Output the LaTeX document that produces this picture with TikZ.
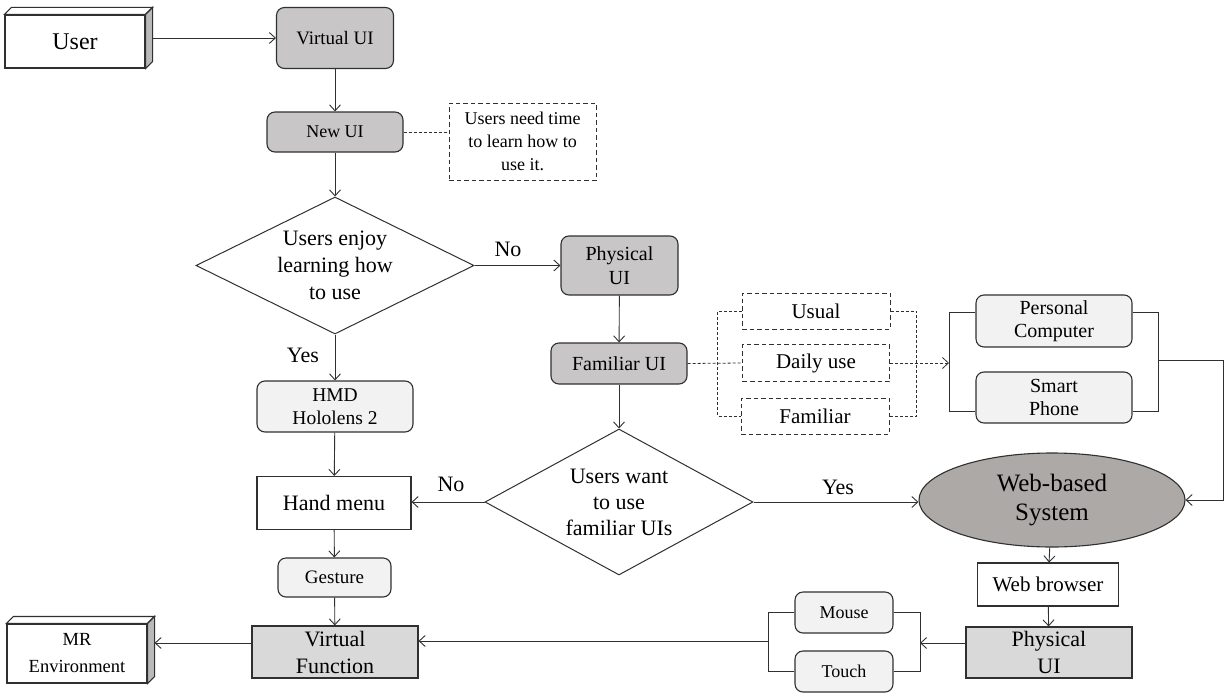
\documentclass[tikz,border=0pt]{standalone}
\usepackage{fontspec}
\setmainfont{Liberation Serif}
\usetikzlibrary{shapes,arrows.meta}
\definecolor{uigray}{HTML}{C8C6C6}
\definecolor{softgray}{HTML}{F2F2F2}
\definecolor{fngray}{HTML}{D9D9D9}
\definecolor{webgray}{HTML}{ADA9A7}
\definecolor{edge}{HTML}{303030}
\tikzset{
  box/.style={draw=edge,line width=1.1pt,align=center,inner sep=0pt},
  rbox/.style={box,rounded corners=8pt},
  ui/.style={rbox,fill=uigray},
  dev/.style={rbox,fill=softgray},
  fn/.style={box,fill=fngray},
  opt/.style={box,line width=1pt,dash pattern=on 4.5pt off 3pt},
  cube/.style={box,fill=white,minimum width=140pt},
  face/.style={draw=edge,line width=1.1pt},
  decide/.style={diamond,draw=edge,line width=1pt,align=center,inner sep=0pt,aspect=2},
  conn/.style={draw=edge,line width=0.9pt,-{Straight Barb[length=6pt,width=11pt]}},
  plain/.style={draw=edge,line width=0.9pt},
  dashline/.style={draw=edge,line width=0.8pt,dash pattern=on 3pt off 2pt},
}
\newcommand{\fsz}[2]{\fontsize{#1}{#2}\selectfont}
\newcommand{\cube}[6]{\node[cube,minimum height=#4pt,font=#5] (#1) at (#2,#3) {#6};
  \filldraw[face,fill=white] (#1.north west) -- ++(7pt,7pt) -- ([shift={(7pt,7pt)}]#1.north east) -- (#1.north east) -- cycle;
  \filldraw[face,fill=gray!55] (#1.north east) -- ++(7pt,7pt) -- ([shift={(7pt,7pt)}]#1.south east) -- (#1.south east) -- cycle;}
\newcommand{\link}[2]{\draw[conn] (#1) -- (#2);}

\begin{document}
\begin{tikzpicture}[x=1pt,y=-1pt]
    \useasboundingbox (0,0) rectangle (1225,693);
    % left column
    \cube{user}{75}{41.5}{53}{\fsz{24}{28}}{User}
    \node[ui,minimum width=117pt,minimum height=61pt,font=\fsz{19}{23}] (vui) at (335,38) {Virtual UI};
    \node[ui,minimum width=136pt,minimum height=40pt,font=\fsz{18}{22}] (newui) at (335,132) {New UI};
    \node[opt,minimum width=147pt,minimum height=77pt,font=\fsz{18}{23}] (note) at (522.5,141.5) {Users need time\\to learn how to\\use it.};
    \node[decide,minimum width=278pt,minimum height=137pt,font=\fsz{22}{27}] (enjoy) at (335,265.5) {Users enjoy\\learning how\\to use};
    \node[dev,minimum width=156pt,minimum height=51pt,font=\fsz{19.5}{23}] (hmd) at (335,406.5) {HMD\\Hololens 2};
    \node[box,fill=white,minimum width=154pt,minimum height=53pt,font=\fsz{22}{26}] (hand) at (334,503) {Hand menu};
    \node[dev,minimum width=113pt,minimum height=39pt,font=\fsz{19}{23}] (gesture) at (334.5,577.5) {Gesture};
    \node[fn,minimum width=166pt,minimum height=52pt,font=\fsz{22}{27}] (vfunc) at (335,652) {Virtual\\Function};
    \cube{mr}{77}{653.5}{59}{\fsz{18.5}{27}}{MR\\Environment}
    % middle column
    \node[ui,minimum width=117pt,minimum height=59pt,font=\fsz{20}{24}] (pui) at (619.5,265.5) {Physical\\UI};
    \node[ui,minimum width=136pt,minimum height=41pt,font=\fsz{20}{24}] (famui) at (619,363.5) {Familiar UI};
    \node[decide,minimum width=268pt,minimum height=146pt,font=\fsz{22}{26}] (want) at (619,502) {Users want\\to use\\familiar UIs};
    % options and devices
    \node[opt,minimum width=148pt,minimum height=36pt,font=\fsz{21}{25}] (usual) at (816,311) {Usual};
    \node[opt,minimum width=147pt,minimum height=37pt,font=\fsz{21}{25}] (daily) at (816,363) {Daily use};
    \node[opt,minimum width=148pt,minimum height=36pt,font=\fsz{21}{25}] (famil) at (815,416) {Familiar};
    \node[dev,minimum width=156pt,minimum height=52pt,font=\fsz{20}{23}] (pc) at (1054,321) {Personal\\Computer};
    \node[dev,minimum width=156pt,minimum height=51pt,font=\fsz{20}{23}] (phone) at (1054,397.5) {Smart\\Phone};
    % right column
    \node[ellipse,draw=edge,line width=1.1pt,fill=webgray,align=center,inner sep=0pt,minimum width=266pt,minimum height=94pt,font=\fsz{25}{29}] (web) at (1052,500) {Web-based\\System};
    \node[box,fill=white,minimum width=141pt,minimum height=43pt,font=\fsz{21}{25}] (browser) at (1048,584.5) {Web browser};
    \node[fn,minimum width=166pt,minimum height=51pt,font=\fsz{22}{27}] (pui2) at (1049,652.5) {Physical\\UI};
    \node[dev,minimum width=98pt,minimum height=41pt,font=\fsz{18}{22}] (mouse) at (844,612.5) {Mouse};
    \node[dev,minimum width=98pt,minimum height=41pt,font=\fsz{18}{22}] (touch) at (844,671.5) {Touch};
    % labels
    \node[font=\fsz{22}{26}] (no1) at (508,249) {No};
    \node[font=\fsz{22}{26}] (yes1) at (303,355) {Yes};
    \node[font=\fsz{22}{26}] (no2) at (451,484) {No};
    \node[font=\fsz{22}{26}] (yes2) at (838,487) {Yes};
    % junction points
    \coordinate (devl) at (949,363);
    \coordinate (devr) at (1158,360);
    \coordinate (webr) at (1223,360);
    \coordinate (inr) at (920,643);
    \coordinate (inl) at (768,641);

    \draw[conn] ([shift={(7pt,3.5pt)}]user.east) -- (vui.west);
    \link{vui}{newui}
    \draw[dashline] (newui.east) -- (note.west |- newui.east);
    \link{newui}{enjoy}
    \link{enjoy.east}{pui.west}
    \link{enjoy}{hmd}
    \link{pui}{famui}
    \link{famui}{want}
    \link{hmd}{hand}
    \link{hand}{gesture}
    \link{gesture}{vfunc}
    \draw[conn] (want.west) -- (hand.east |- want.west);
    \draw[conn] (want.east) -- (web.west |- want.east);
    \draw[conn] ([yshift=9pt]vfunc.west) -- ([shift={(7pt,10.5pt)}]mr.east);
    % options
    \draw[dashline] (famui.east) -- (daily.west);
    \draw[dashline] (usual.west) -- ++(-24,0) |- (famil.west);
    \draw[dashline] (usual.east) -- ++(26,0) |- (famil.east);
    \draw[dashline,-{Straight Barb[length=6pt,width=11pt]}] (daily.east) -- (devl);
    % devices
    \draw[plain] ([yshift=9pt]pc.west) -| (devl) |- ([yshift=-13.5pt]phone.west);
    \draw[plain] ([yshift=9pt]pc.east) -| (devr) |- ([yshift=-14pt]phone.east);
    \draw[conn] (devr) -- (webr) |- (web.east);
    \link{web}{browser}
    \link{browser}{pui2}
    \draw[conn] ([yshift=9.5pt]pui2.west) -- (inr);
    \draw[plain] (mouse.east) -| (inr) |- (touch.east);
    \draw[plain] (mouse.west) -| (inl) |- (touch.west);
    \draw[conn] (inl) -- (vfunc.east |- inl);
\end{tikzpicture}
\end{document}
